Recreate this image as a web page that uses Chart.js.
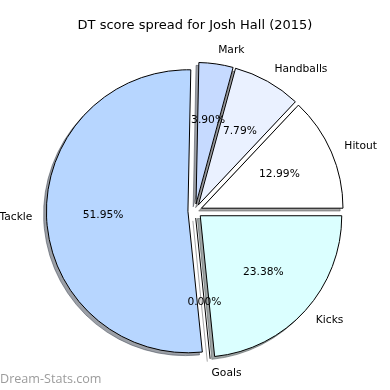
<!DOCTYPE html>
<html>
<head>
<meta charset="utf-8">
<script src="https://cdn.jsdelivr.net/npm/chart.js@4/dist/chart.umd.min.js"></script>
<style>
  html, body { margin: 0; padding: 0; background: #ffffff; }
  #wrap { width: 390px; height: 390px; position: relative; }
</style>
</head>
<body>
<div id="wrap"><canvas id="c" width="390" height="390"></canvas></div>
<script>
// Data (clockwise from 3 o'clock)
const categories = ['Kicks', 'Goals', 'Tackle', 'Mark', 'Handballs', 'Hitout'];
const percentages = [23.38, 0.00, 51.95, 3.90, 7.79, 12.99];
const sliceColors = ['#dbffff', '#ffffff', '#b7d6ff', '#c6daff', '#eaf1ff', '#ffffff'];
const titleText = 'DT score spread for Josh Hall (2015)';
const watermark = 'Dream-Stats.com';

const EXPLODE = 0.05;      // fraction of radius
const SHADOW = 0.02;       // fraction of radius
const LABEL_DIST = 1.1;
const PCT_DIST = 0.6;
const FONT = '"DejaVu Sans", sans-serif';

function shade(hex) {
  const h = hex.replace('#', '');
  const r = parseInt(h.slice(0, 2), 16), g = parseInt(h.slice(2, 4), 16), b = parseInt(h.slice(4, 6), 16);
  return 'rgba(' + Math.round(r * 0.3) + ',' + Math.round(g * 0.3) + ',' + Math.round(b * 0.3) + ',0.5)';
}

class ExplodedPieController extends Chart.PieController {
  draw() {
    const ctx = this.chart.ctx;
    const arcs = this._cachedMeta.data;
    const items = arcs.map((arc) => {
      const mid = (arc.startAngle + arc.endAngle) / 2;
      const d = EXPLODE * arc.outerRadius;
      return { arc, mid, dx: Math.cos(mid) * d, dy: Math.sin(mid) * d };
    });
    const drawZero = (arc, mid, color) => {
      ctx.beginPath();
      ctx.moveTo(arc.x, arc.y);
      ctx.lineTo(arc.x + Math.cos(mid) * arc.outerRadius, arc.y + Math.sin(mid) * arc.outerRadius);
      ctx.strokeStyle = color;
      ctx.lineWidth = arc.options.borderWidth;
      ctx.stroke();
    };
    // shadows first
    items.forEach(({ arc, mid, dx, dy }) => {
      const so = SHADOW * arc.outerRadius;
      const sc = shade(arc.options.backgroundColor);
      ctx.save();
      ctx.translate(dx - so, dy + so);
      if (arc.circumference > 0) {
        const o = Object.create(arc);
        o.options = Object.assign({}, arc.options, { backgroundColor: sc, borderColor: sc });
        o.draw(ctx);
      } else {
        drawZero(arc, mid, sc);
      }
      ctx.restore();
    });
    // wedges
    items.forEach(({ arc, mid, dx, dy }) => {
      ctx.save();
      ctx.translate(dx, dy);
      if (arc.circumference > 0) {
        arc.draw(ctx);
      } else {
        drawZero(arc, mid, arc.options.borderColor);
      }
      ctx.restore();
    });
  }
}
ExplodedPieController.id = 'explodedPie';
Chart.register(ExplodedPieController);

const labelPlugin = {
  id: 'pieLabels',
  afterDatasetsDraw(chart) {
    const ctx = chart.ctx;
    const arcs = chart.getDatasetMeta(0).data;
    ctx.save();
    ctx.fillStyle = '#000000';
    ctx.font = '10.7px ' + FONT;
    ctx.textBaseline = 'middle';
    arcs.forEach((arc, i) => {
      const mid = (arc.startAngle + arc.endAngle) / 2;
      const R = arc.outerRadius;
      const e = EXPLODE * R;
      const cx = Math.cos(mid), cy = Math.sin(mid);
      const lx = arc.x + (e + LABEL_DIST * R) * cx;
      const ly = arc.y + (e + LABEL_DIST * R) * cy;
      ctx.textAlign = cx >= 0 ? 'left' : 'right';
      ctx.fillText(chart.data.labels[i], lx, ly);
      const px = arc.x + (e + PCT_DIST * R) * cx;
      const py = arc.y + (e + PCT_DIST * R) * cy;
      ctx.textAlign = 'center';
      ctx.fillText(chart.data.datasets[0].data[i].toFixed(2) + '%', px, py);
    });
    // watermark
    ctx.font = '12.6px "Open Sans", sans-serif';
    ctx.fillStyle = '#9c9c9c';
    ctx.textAlign = 'left';
    ctx.fillText(watermark, 0, 379);
    ctx.restore();
  }
};

new Chart(document.getElementById('c'), {
  type: 'explodedPie',
  data: {
    labels: categories,
    datasets: [{
      data: percentages,
      backgroundColor: sliceColors,
      borderColor: '#000000',
      borderWidth: 1
    }]
  },
  options: {
    responsive: false,
    animation: false,
    events: [],
    rotation: 90,
    layout: { padding: { left: 53, right: 53, top: 0, bottom: 1.6 } },
    plugins: {
      legend: { display: false },
      tooltip: { enabled: false },
      title: {
        display: true,
        text: titleText,
        color: '#000000',
        font: { family: FONT, size: 13, weight: 'normal' },
        padding: { top: 18, bottom: 0 }
      }
    }
  },
  plugins: [labelPlugin]
});
</script>
</body>
</html>
